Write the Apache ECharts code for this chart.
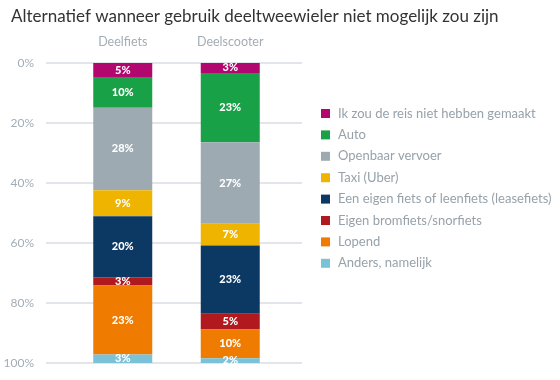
<!DOCTYPE html>
<html>
<head>
<meta charset="utf-8">
<script src="https://cdn.jsdelivr.net/npm/echarts@6/dist/echarts.min.js"></script>
<style>html,body{margin:0;padding:0;background:#fff}#c{width:560px;height:380px}</style>
</head>
<body>
<div id="c"></div>
<script>
const categories = ['Deelfiets', 'Deelscooter'];
const seriesNames = ['Ik zou de reis niet hebben gemaakt', 'Auto', 'Openbaar vervoer', 'Taxi (Uber)', 'Een eigen fiets of leenfiets (leasefiets)', 'Eigen bromfiets/snorfiets', 'Lopend', 'Anders, namelijk'];
const reisNiet = [4.7, 3.3];
const auto = [10.2, 23.1];
const ov = [27.5, 27.2];
const taxi = [8.7, 7.2];
const eigenFiets = [20.3, 22.8];
const brommer = [2.8, 5.2];
const lopend = [23.0, 9.6];
const anders = [2.8, 1.6];
const yTicks = [0, 20, 40, 60, 80, 100];
const colors = ['#b1076f', '#19a147', '#9eaab2', '#efb400', '#0c3864', '#b01a1e', '#ef7b00', '#7cc2d7'];
const values = [reisNiet, auto, ov, taxi, eigenFiets, brommer, lopend, anders];

const chart = echarts.init(document.getElementById('c'), null, {renderer: 'canvas'});
const font = 'Lato, "Open Sans", sans-serif';
chart.setOption({
  animation: false,
  textStyle: {fontFamily: font},
  title: {
    text: 'Alternatief wanneer gebruik deeltweewieler niet mogelijk zou zijn',
    left: 6, top: 3,
    textStyle: {fontFamily: font, fontSize: 17, fontWeight: 'normal', color: '#333'}
  },
  color: colors,
  legend: {
    orient: 'vertical', left: 316, top: 102,
    itemWidth: 9, itemHeight: 9, itemGap: 8.4, icon: 'rect',
    textStyle: {fontFamily: font, fontSize: 13, lineHeight: 13, color: '#97a2aa', padding: [0, 0, 0, 3]},
    data: seriesNames
  },
  grid: [
    {left: 46, right: 258, top: 63, bottom: 17},
    {left: 69, right: 276, top: 63, bottom: 17}
  ],
  xAxis: [
    {gridIndex: 0, type: 'category', data: categories, show: false},
    {gridIndex: 1, type: 'category', data: categories, position: 'top',
     axisLine: {show: false}, axisTick: {show: false},
     axisLabel: {margin: 15, fontSize: 12.5, color: '#a3adb5', fontFamily: font}}
  ],
  yAxis: [
    {gridIndex: 0, type: 'value', inverse: true, min: 0, max: 100, interval: 20,
     axisLine: {show: false}, axisTick: {show: false},
     axisLabel: {formatter: v => yTicks.includes(v) ? v + '%' : '', margin: 12, fontSize: 12, color: '#a3adb5', fontFamily: font},
     splitLine: {lineStyle: {color: '#d9dde2', width: 1.5}}},
    {gridIndex: 1, type: 'value', inverse: true, min: 0, max: 100, interval: 20, show: false}
  ],
  series: seriesNames.map((name, i) => ({
    name: name, type: 'bar', stack: 'total', xAxisIndex: 1, yAxisIndex: 1,
    barWidth: 59, data: values[i],
    itemStyle: {color: colors[i]},
    label: {show: true, position: 'inside', formatter: p => Math.round(p.value) + '%',
      color: '#fff', fontWeight: 900, fontSize: 11, fontFamily: font}
  }))
});
</script>
</body>
</html>
